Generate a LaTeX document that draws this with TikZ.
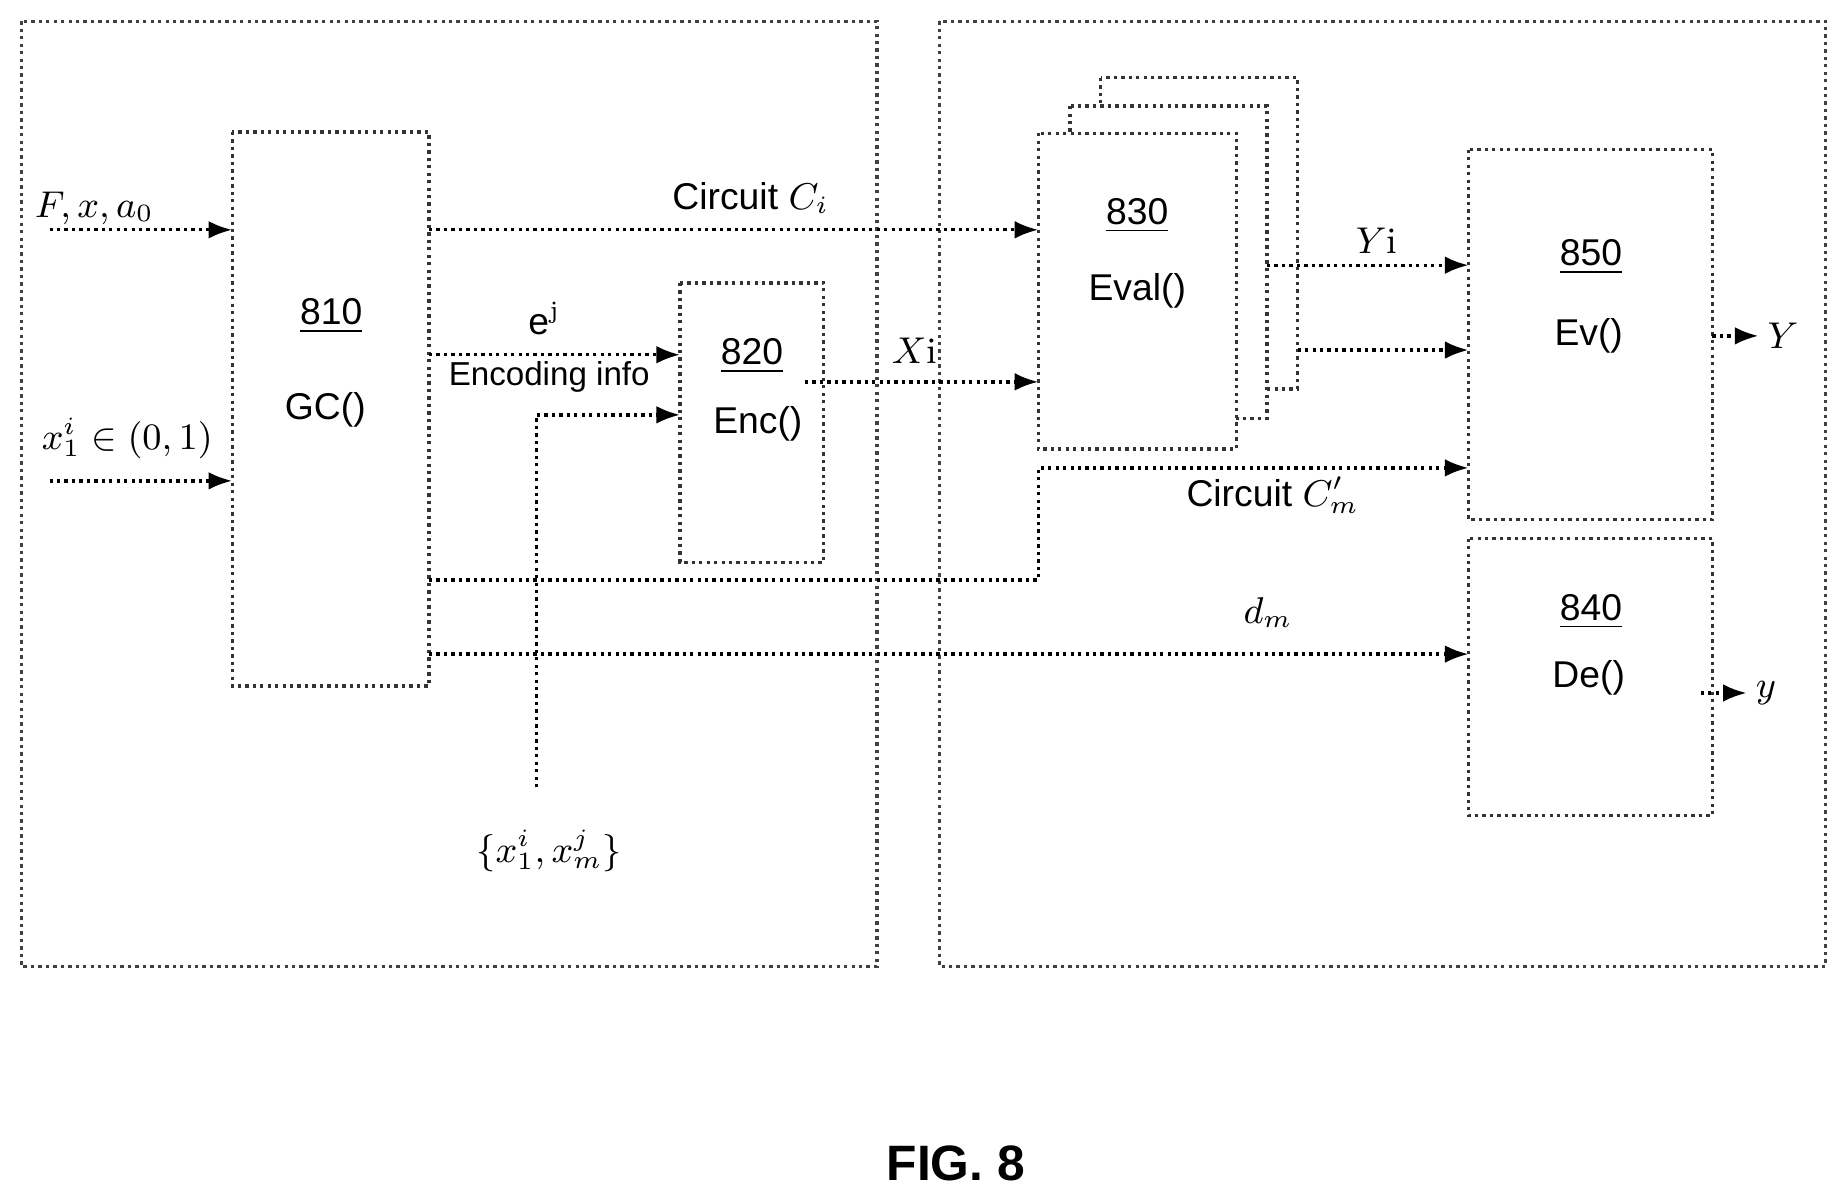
\documentclass[tikz,border=0pt]{standalone}
\usepackage{fontspec}
\setsansfont{Liberation Sans}
\usepackage{tikz}
\usetikzlibrary{positioning,arrows.meta}
\tikzset{
  frame/.style={draw=black!75, densely dotted, thick},
  blk/.style={draw=black!80, densely dotted, thick, fill=white},
  fwd/.style={-{Latex[length=2mm]}, densely dotted, thick},
  lbl/.style={font=\small, inner sep=1pt},
  num/.style={font=\small\sffamily, inner sep=1pt},
}
\newcommand{\unum}[1]{\underline{#1}}
\begin{document}
\begin{tikzpicture}[x=0.01cm,y=-0.01cm]
  \useasboundingbox (0,0) rectangle (1568,1021);
  % outer frames
  \draw[frame] (18,18) rectangle (744,820);
  \draw[frame] (797,18) rectangle (1549,820);

  % blocks
  \draw[blk] (197,112) rectangle (364,582);
  \node[num] (n810) at (281,268) {\unum{810}};
  \node[num] (gc) at (276,348) {GC()};
  \draw[blk] (577,240) rectangle (699,477);
  \node[num] (n820) at (638,302) {\unum{820}};
  \node[num] (enc) at (643,360) {Enc()};
  \draw[blk] (934,66) rectangle (1101,330);
  \draw[blk] (908,90) rectangle (1075,355);
  \draw[blk] (881,113) rectangle (1049,381);
  \node[num] (n830) at (965,183) {\unum{830}};
  \node[num] (eval) at (965,247) {Eval()};
  \draw[blk] (1246,127) rectangle (1453,441);
  \node[num] (n850) at (1350,218) {\unum{850}};
  \node[num] (ev) at (1348,285) {Ev()};
  \draw[blk] (1246,457) rectangle (1453,692);
  \node[num] (n840) at (1350,519) {\unum{840}};
  \node[num] (de) at (1348,575) {De()};

  % connectors
  \coordinate (inF) at (42,195);
  \coordinate (inX) at (42,408);
  \coordinate (inS) at (455,668);
  \draw[fwd] (inF) -- (197,195);
  \node[lbl] (lF) at (80,177) {$F, x, a_0$};
  \draw[fwd] (inX) -- (197,408);
  \node[lbl] (lX) at (108,372) {$x_1^i \in (0,1)$};
  \draw[fwd] (364,195) -- (881,195);
  \node[lbl] (lC) at (637,168) {\sffamily Circuit $C_i$};
  \draw[fwd] (364,301) -- (577,301);
  \node[lbl] (le) at (462,270) {\sffamily e$^{\mathrm{j}}$};
  \node[lbl, font=\footnotesize\sffamily] (lenc) at (466,320) {Encoding info};
  \draw[fwd] (inS) -- (455,352) -- (577,352);
  \node[lbl] (lS) at (466,722) {$\{x_1^i, x_m^j\}$};
  \draw[fwd] (683,324) -- (881,324);
  \node[lbl] (lXi) at (776,298) {$X\mathrm{i}$};
  \draw[fwd] (1075,225) -- (1246,225);
  \node[lbl] (lYi) at (1168,204) {$Y\mathrm{i}$};
  \draw[fwd] (1101,297) -- (1246,297);
  \draw[fwd] (364,492) -- (881,492) -- (881,397) -- (1246,397);
  \node[lbl] (lCm) at (1080,420) {\sffamily Circuit $C'_m$};
  \draw[fwd] (364,555) -- (1246,555);
  \node[lbl] (ld) at (1076,520) {$d_m$};
  \coordinate (oY) at (1492,285);
  \coordinate (oy) at (1482,588);
  \draw[fwd] (1453,285) -- (oY);
  \node[lbl, right=1pt of oY] (lY) {$Y$};
  \draw[fwd] (1443,588) -- (oy);
  \node[lbl, right=1pt of oy] (ly) {$y$};

  \node[font=\large\sffamily\bfseries] (fig) at (811,987) {FIG. 8};
\end{tikzpicture}
\end{document}
